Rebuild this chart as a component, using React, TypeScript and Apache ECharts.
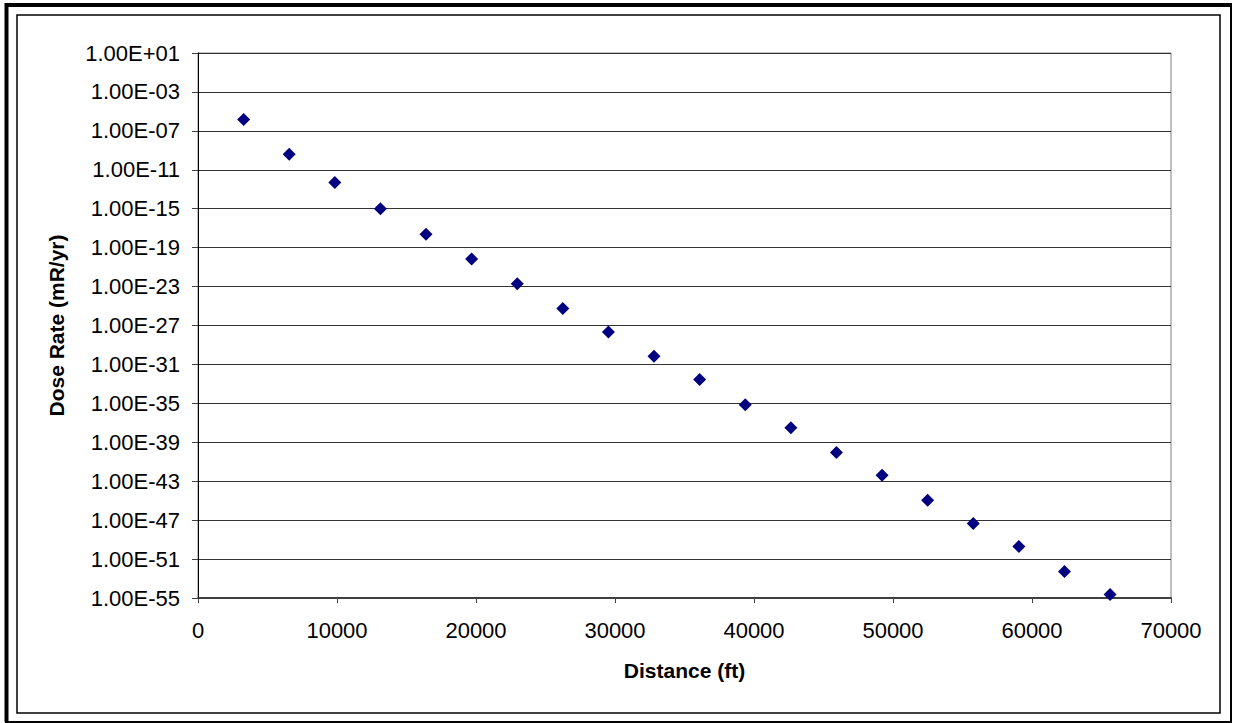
import React, { useEffect, useRef } from "react";
import * as echarts from "echarts";

// Distance (ft) and dose rate (mR/yr)
const distances: number[] = [
  3281, 6562, 9843, 13123, 16404, 19685, 22966, 26247, 29528, 32808,
  36089, 39370, 42651, 45932, 49213, 52493, 55774, 59055, 62336, 65617,
];
const doseRates: number[] = [
  1.5e-6, 3.9e-10, 4.8e-13, 1.0e-15, 2.4e-18, 6.9e-21, 2.0e-23, 5.5e-26, 2.1e-28, 6.8e-31,
  2.8e-33, 7.4e-36, 3.2e-38, 9.1e-41, 4.0e-43, 1.1e-45, 4.6e-48, 2.0e-50, 5.4e-53, 2.3e-55,
];
// Y axis: decades from 1E-55 to 1E+01, a label every 4 decades
const yMinExp = -55;
const yMaxExp = 1;
const yStepExp = 4;
const xTicks = { min: 0, max: 70000, interval: 10000 };

const xTitle = "Distance (ft)";
const yTitle = "Dose Rate (mR/yr)";

function formatExp(e: number): string {
  const sign = e < 0 ? "-" : "+";
  const a = Math.abs(Math.round(e));
  return "1.00E" + sign + (a < 10 ? "0" + a : String(a));
}

export default function App() {
  const ref = useRef<HTMLDivElement>(null);
  useEffect(() => {
    if (!ref.current) return;
    const chart = echarts.init(ref.current, undefined, { renderer: "svg" });
    const data = distances.map((d, i) => [d, Math.log10(doseRates[i]) - yMinExp]);
    const font = "Arial, 'Liberation Sans', sans-serif";
    chart.setOption({
      animation: false,
      backgroundColor: "#ffffff",
      grid: {
        left: 198,
        right: 62,
        top: 53,
        bottom: 125,
        show: true,
        borderColor: "#808080",
        borderWidth: 1,
        backgroundColor: "transparent",
      },
      xAxis: {
        type: "value",
        min: xTicks.min,
        max: xTicks.max,
        interval: xTicks.interval,
        name: xTitle,
        nameLocation: "middle",
        nameGap: 62,
        nameTextStyle: { fontFamily: font, fontSize: 21, fontWeight: "bold", color: "#000" },
        axisLine: { show: true, lineStyle: { color: "#404040", width: 2 } },
        axisTick: { show: true, inside: false, length: 5, lineStyle: { color: "#404040", width: 1 } },
        axisLabel: {
          fontFamily: font,
          fontSize: 22,
          color: "#000",
          margin: 21,
          formatter: (v: number) => String(v),
        },
        splitLine: { show: false },
      },
      yAxis: {
        type: "value",
        min: 0,
        max: yMaxExp - yMinExp,
        interval: yStepExp,
        name: yTitle,
        nameLocation: "middle",
        nameGap: 131,
        nameTextStyle: { fontFamily: font, fontSize: 21, fontWeight: "bold", color: "#000" },
        axisLine: { show: true, lineStyle: { color: "#000", width: 1 } },
        axisTick: { show: true, inside: false, length: 6, lineStyle: { color: "#404040", width: 1 } },
        axisLabel: {
          fontFamily: font,
          fontSize: 22,
          color: "#000",
          margin: 18,
          formatter: (v: number) => formatExp(v + yMinExp),
        },
        splitLine: { show: true, lineStyle: { color: "#333333", width: 1 } },
      },
      series: [
        {
          type: "scatter",
          data,
          symbol: "diamond",
          symbolSize: 13,
          itemStyle: { color: "#000080", opacity: 1 },
        },
      ],
      graphic: [
        {
          type: "rect",
          shape: { x: 6, y: 4, width: 1225, height: 718 },
          style: { fill: "none", stroke: "#000", lineWidth: 2 },
          silent: true,
        },
        {
          type: "line",
          shape: { x1: 5, y1: 5, x2: 1231, y2: 5 },
          style: { stroke: "#000", lineWidth: 4 },
          silent: true,
        },
        {
          type: "line",
          shape: { x1: 6.5, y1: 3, x2: 6.5, y2: 722 },
          style: { stroke: "#000", lineWidth: 4 },
          silent: true,
        },
        {
          type: "rect",
          shape: { x: 17, y: 15, width: 1203, height: 698 },
          style: { fill: "none", stroke: "#000", lineWidth: 1.5 },
          silent: true,
        },
      ],
    });
    return () => chart.dispose();
  }, []);
  return (
    <div
      ref={ref}
      style={{ position: "fixed", left: 0, top: 0, width: 1233, height: 723 }}
    />
  );
}
